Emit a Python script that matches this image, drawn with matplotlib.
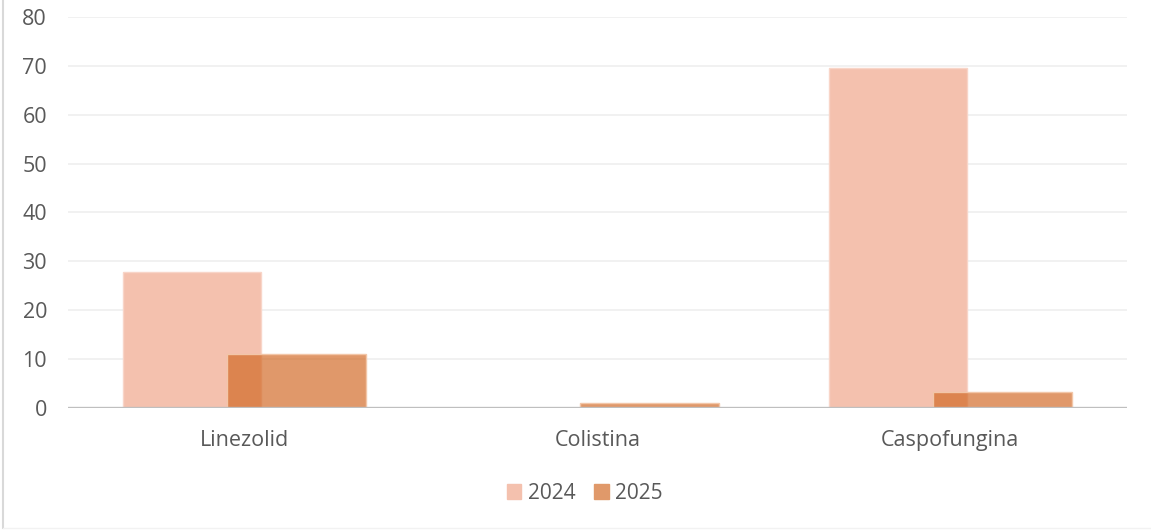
import matplotlib.pyplot as plt
import numpy as np
from matplotlib.lines import Line2D
from matplotlib.patches import Patch

plt.rcParams['font.family'] = ['Open Sans', 'DejaVu Sans']

categories = ['Linezolid', 'Colistina', 'Caspofungina']
years = ['2024', '2025']
values_2024 = [27.8, 0, 69.5]
values_2025 = [11.1, 1.0, 3.2]
y_ticks = [0, 10, 20, 30, 40, 50, 60, 70, 80]

text_color = '#595959'
color_2024 = '#F4C1AE'
color_2025 = (0.82, 0.40, 0.13, 0.67)

fig = plt.figure(figsize=(11.51, 5.31), dpi=100)
ax = fig.add_axes([0.059, 0.2316, 0.92, 0.7365])

x = np.arange(len(categories))
width = 0.392
offset = 0.148

ax.bar(x - offset, values_2024, width, color=color_2024, edgecolor='#F8D5C8',
       linewidth=1, label=years[0], zorder=2)
ax.bar(x + offset, values_2025, width, color=color_2025, edgecolor='#F2C6A8',
       linewidth=1, label=years[1], zorder=3)

ax.set_xlim(-0.5, 2.5)
ax.set_ylim(0, 80)
ax.set_yticks(y_ticks)
ax.set_xticks(x)
ax.set_xticklabels(categories)
ax.grid(axis='y', color='#F0F0F0', linewidth=1.3, zorder=0)
ax.set_axisbelow(True)
for s in ['top', 'right', 'left', 'bottom']:
    ax.spines[s].set_visible(False)
ax.axhline(0, color='#BFBFBF', linewidth=2.4, zorder=4)
ax.tick_params(axis='both', length=0, labelsize=15.5, colors=text_color)
ax.tick_params(axis='y', pad=15)
ax.tick_params(axis='x', pad=16)

handles = [Patch(color=color_2024), Patch(color='#E0996A')]
fig.legend(handles, years, loc='center', bbox_to_anchor=(0.508, 0.071),
           ncol=2, frameon=False, fontsize=15, labelcolor=text_color,
           handlelength=0.7, handleheight=0.7, handletextpad=0.3,
           columnspacing=0.9)

# outer chart border
fig.add_artist(Line2D([0.003, 0.003], [0.005, 1.0], color='#D9D9D9',
                      linewidth=1.5, transform=fig.transFigure))
fig.add_artist(Line2D([0.003, 1.0], [0.005, 0.005], color='#F2F2F2',
                      linewidth=1, transform=fig.transFigure))

fig.savefig('out.png', dpi=100)
